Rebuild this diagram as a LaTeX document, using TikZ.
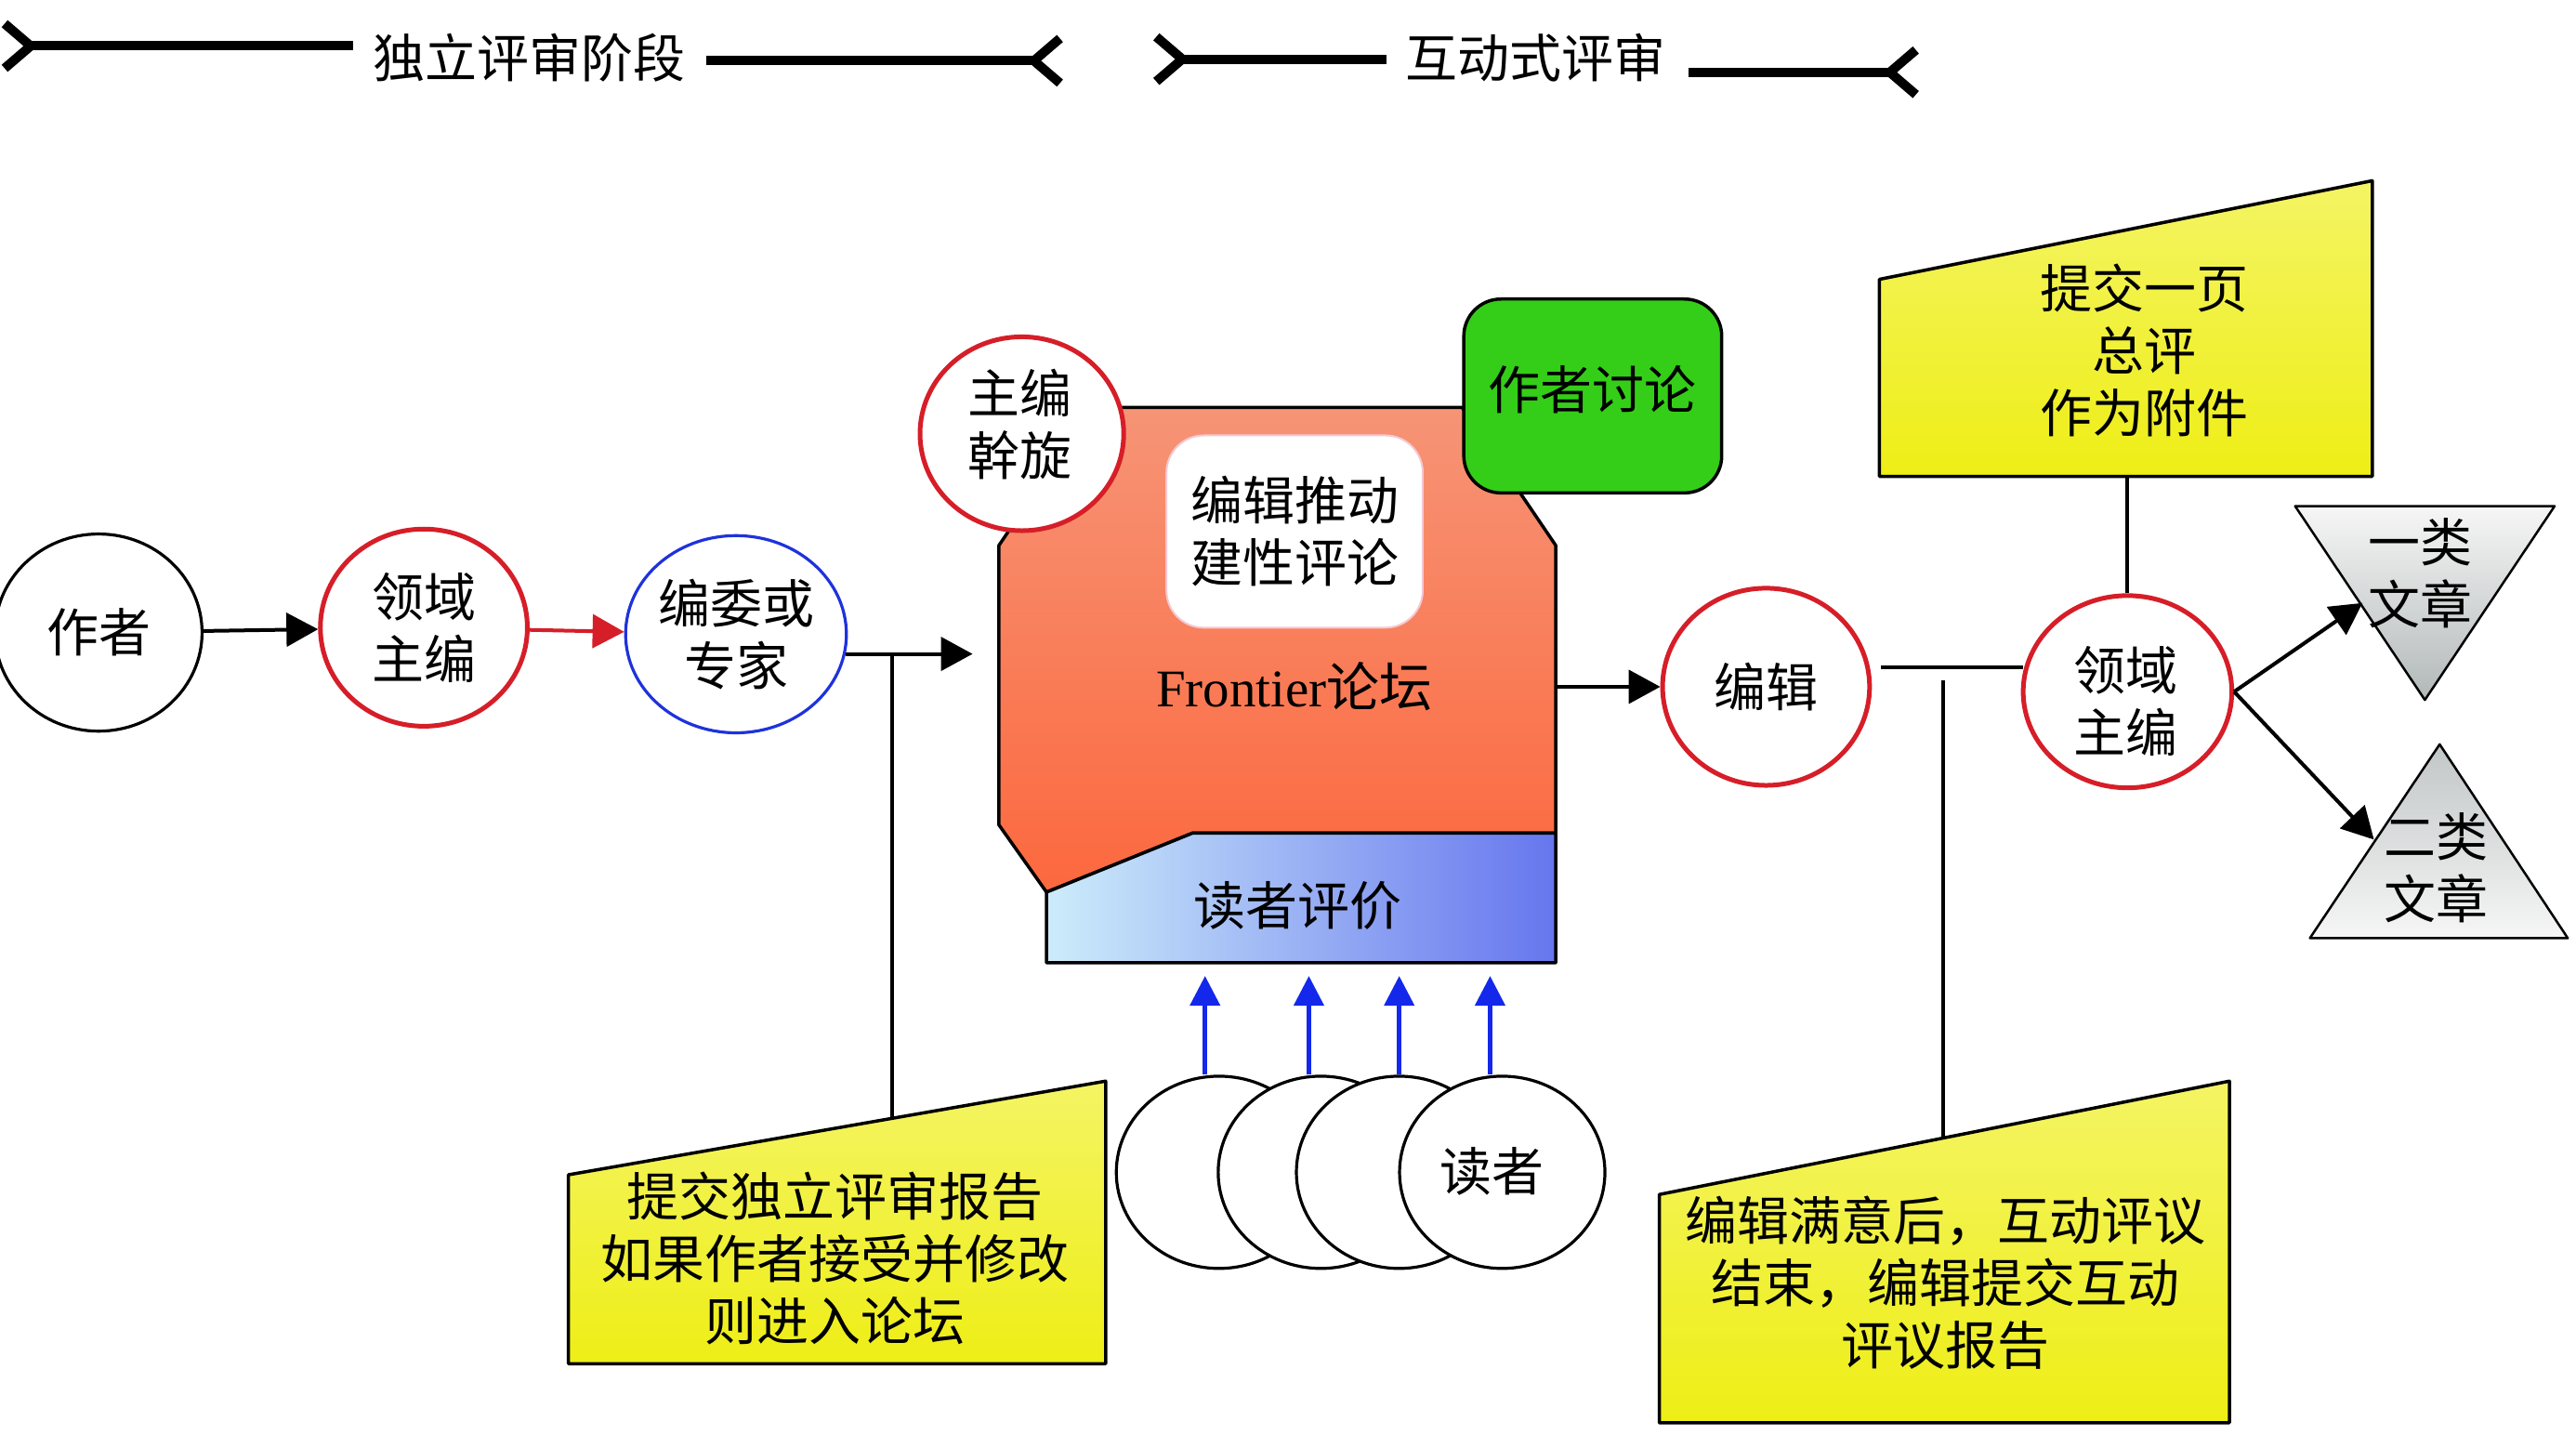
\documentclass[tikz,border=0pt]{standalone}
\usepackage{fontspec}
\setmainfont{Liberation Serif}
\newfontfamily\cjk{Noto Sans CJK SC}
\usetikzlibrary{arrows.meta,shapes.geometric}
\definecolor{myred}{RGB}{214,30,40}
\definecolor{myblue}{RGB}{30,50,220}
\definecolor{arrblue}{RGB}{20,40,235}
\definecolor{mygreen}{RGB}{52,206,24}
\definecolor{myyellow}{RGB}{238,238,22}
\definecolor{yellowtop}{RGB}{244,244,100}
\definecolor{orangetop}{RGB}{246,148,118}
\definecolor{orangebot}{RGB}{252,104,62}
\definecolor{bluel}{RGB}{205,236,250}
\definecolor{bluer}{RGB}{102,118,238}
\definecolor{greytop}{RGB}{246,246,246}
\definecolor{greybot}{RGB}{178,184,184}
\definecolor{pinkedge}{RGB}{245,200,210}
\tikzset{
  txt/.style={font=\cjk\fontsize{56}{67}\selectfont, align=center, inner sep=0pt},
  ell/.style={ellipse, draw, fill=white, inner sep=0pt, minimum width=126*1.768pt, minimum height=120*1.768pt, line width=3.2pt, txt},
  redell/.style={ell, draw=myred, line width=5pt},
  blueell/.style={ell, draw=myblue, line width=3.2pt},
  conn/.style={line width=4pt},
  arr/.style={conn, -{Triangle[length=34pt,width=36pt]}},
  redarr/.style={conn, myred, -{Triangle[length=34pt,width=36pt]}},
  bluearr/.style={line width=4.5pt, arrblue, -{Triangle[length=32pt,width=32pt]}},
  phasestart/.style={line width=10pt, {Straight Barb[reversed,length=28pt,width=48pt]}-},
  phaseend/.style={line width=10pt, -{Straight Barb[reversed,length=28pt,width=48pt]}},
  yellowbox/.style={draw, line width=3.5pt, top color=yellowtop, bottom color=myyellow},
}
\begin{document}
\begin{tikzpicture}[x=1.768pt,y=-1.768pt, line join=round]
\useasboundingbox (0,0) rectangle (1568,881);
\fill[white] (0,0) rectangle (1568,881);

% phase headers
\node[txt] (ph1) at (322,35) {独立评审阶段};
\coordinate (ph1a) at (0,28);
\coordinate (ph1b) at (215,28);
\coordinate (ph1c) at (430,37);
\coordinate (ph1d) at (648,37);
\draw[phasestart] (ph1a) -- (ph1b);
\draw[phaseend] (ph1c) -- (ph1d);
\node[txt] (ph2) at (935,35) {互动式评审};
\coordinate (ph2a) at (701,36);
\coordinate (ph2b) at (844,36);
\coordinate (ph2c) at (1028,44);
\coordinate (ph2d) at (1169,44);
\draw[phasestart] (ph2a) -- (ph2b);
\draw[phaseend] (ph2c) -- (ph2d);

% left chain
\node[ell] (author) at (60,385) {作者};
\node[redell] (lead1) at (258,382) {领域\\主编};
\node[blueell] (board) at (448,386) {编委或\\专家};

% left yellow box
\path[yellowbox] (346,715) -- (673,658) -- (673,830) -- (346,830) -- cycle;
\node[txt] (rep1) at (508,766) {提交独立评审报告\\如果作者接受并修改\\则进入论坛};

% forum
\path[draw, line width=3.5pt, top color=orangetop, bottom color=orangebot]
  (665,248) -- (890,248) -- (947,332) -- (947,507) -- (726,507) -- (637,543) -- (608,502) -- (608,332) -- cycle;
\path[draw, line width=3.5pt, left color=bluel, right color=bluer]
  (637,543) -- (726,507) -- (947,507) -- (947,586) -- (637,586) -- cycle;
\node[txt] (rev) at (790,551) {读者评价};
\node[redell, minimum width=124*1.768pt, minimum height=118*1.768pt] (mediate) at (622,264) {};
\node[txt] (medlbl) at (621,258) {主编\\幹旋};
\node[txt, draw, fill=mygreen, rounded corners=40pt, minimum width=157*1.768pt, minimum height=118*1.768pt, line width=3.5pt] (disc) at (969.5,241) {};
\node[txt] (disclbl) at (969.5,237) {作者讨论};
\node[txt, draw=pinkedge, fill=white, rounded corners=40pt, minimum width=156*1.768pt, minimum height=117*1.768pt, line width=2pt] (push) at (788,323.5) {编辑推动\\建性评论};
\node[font=\fontsize{57}{67}\selectfont, inner sep=0pt] (frontier) at (788,418) {Frontier{\cjk 论坛}};

% readers
\node[ell, minimum width=125*1.768pt, minimum height=117*1.768pt] (r1) at (742,713.5) {};
\node[ell, minimum width=125*1.768pt, minimum height=117*1.768pt] (r2) at (804,713.5) {};
\node[ell, minimum width=125*1.768pt, minimum height=117*1.768pt] (r3) at (851.6,713.5) {};
\node[ell, minimum width=125*1.768pt, minimum height=117*1.768pt] (r4) at (914.4,713.5) {};
\node[txt] (r4lbl) at (908,713) {读者};
\coordinate (b1) at (733.5,594);
\coordinate (b2) at (796.7,594);
\coordinate (b3) at (851.7,594);
\coordinate (b4) at (907,594);
\draw[bluearr] (r1.north -| b1) -- (b1);
\draw[bluearr] (r2.north -| b2) -- (b2);
\draw[bluearr] (r3.north -| b3) -- (b3);
\draw[bluearr] (r4.north -| b4) -- (b4);

% right part
\node[redell] (editor) at (1075,418) {编辑};
\node[redell, minimum width=127*1.768pt, minimum height=117*1.768pt] (lead2) at (1295,421) {};
\node[txt] (lead2lbl) at (1294,427) {领域\\主编};

\path[yellowbox] (1144,170) -- (1444,110) -- (1444,290) -- (1144,290) -- cycle;
\node[txt] (sum) at (1305,213) {提交一页\\总评\\作为附件};
\coordinate (y2bot) at (1294,290);

\path[yellowbox] (1010,727) -- (1357,658) -- (1357,866) -- (1010,866) -- cycle;
\node[txt] (rep2) at (1184,781) {编辑满意后，互动评议\\结束，编辑提交互动\\评议报告};

\path[draw, line width=2.5pt, top color=greytop, bottom color=greybot] (1397,308) -- (1555,308) -- (1476,426) -- cycle;
\node[txt] (cls1) at (1473,349) {一类\\文章};
\path[draw, line width=2.5pt, top color=greybot!80, bottom color=greytop] (1485,453) -- (1563,571) -- (1406,571) -- cycle;
\node[txt] (cls2) at (1483,528) {二类\\文章};

% connectors
\draw[arr] (author) -- (lead1);
\draw[redarr] (lead1) -- (board);
\coordinate (fin) at (592,398);
\draw[arr] (board.-11 |- fin) -- (fin);
\coordinate (j1) at (543,398);
\coordinate (y1top) at (543,681);
\draw[conn] (j1) -- (y1top);
\coordinate (fout) at (947,418);
\draw[arr] (fout) -- (editor);
\coordinate (e1) at (1145,406);
\draw[conn] (e1) -- ([xshift=2pt]lead2.west |- e1);
\coordinate (j2) at (1183,414);
\coordinate (y3top) at (1183,693);
\draw[conn] (j2) -- (y3top);
\draw[conn] (lead2.north) -- (lead2.north |- y2bot);
\coordinate (t1) at (1438,367);
\coordinate (t2) at (1445,511);
\draw[arr] (lead2.east) -- (t1);
\draw[arr] (lead2.east) -- (t2);
\end{tikzpicture}
\end{document}
